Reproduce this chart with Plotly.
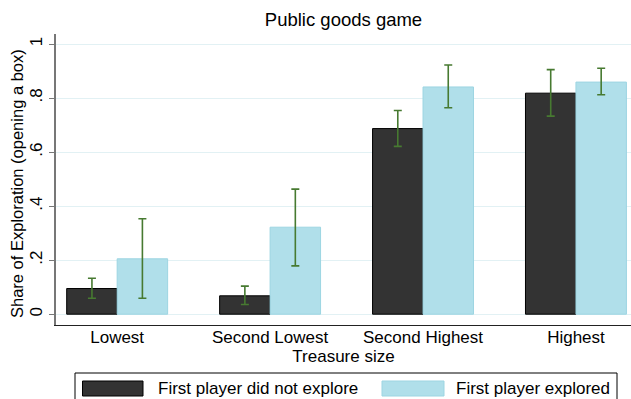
import plotly.graph_objects as go

# Treasure-size categories on the x axis
categories = ["Lowest", "Second Lowest", "Second Highest", "Highest"]

# Share of exploration when the first player did not explore
not_explored = [0.095, 0.068, 0.687, 0.818]
not_explored_hi = [0.133, 0.104, 0.754, 0.905]
not_explored_lo = [0.059, 0.036, 0.621, 0.733]

# Share of exploration when the first player explored
explored = [0.205, 0.322, 0.841, 0.859]
explored_hi = [0.353, 0.463, 0.922, 0.910]
explored_lo = [0.059, 0.179, 0.764, 0.812]

y_tickvals = [0, 0.2, 0.4, 0.6, 0.8, 1]
y_ticktext = ["0", ".2", ".4", ".6", ".8", "1"]

series_names = ["First player did not explore", "First player explored"]
y_title = "Share of Exploration (opening a box)"

FONT = "Liberation Sans, Arial, sans-serif"
DARK = "#333333"
LIGHT = "#b0dfea"
LIGHT_EDGE = "#9dd5e2"
CI_COLOR = "#477a31"

W, H = 631, 399
M_L, M_R, M_T, M_B = 56, 0, 34, 74


def err(vals, hi, lo):
    return dict(
        type="data",
        symmetric=False,
        array=[h - v for h, v in zip(hi, vals)],
        arrayminus=[v - l for v, l in zip(vals, lo)],
        color=CI_COLOR,
        thickness=1.6,
        width=4,
    )


fig = go.Figure()
fig.add_trace(go.Bar(
    x=categories, y=not_explored, name=series_names[0],
    marker=dict(color=DARK, line=dict(color="#000000", width=1)),
    error_y=err(not_explored, not_explored_hi, not_explored_lo),
    showlegend=False,
))
fig.add_trace(go.Bar(
    x=categories, y=explored, name=series_names[1],
    marker=dict(color=LIGHT, line=dict(color=LIGHT_EDGE, width=1)),
    error_y=err(explored, explored_hi, explored_lo),
    showlegend=False,
))

# Legend drawn as a framed strip below the axis
plot_w = W - M_L - M_R
plot_h = H - M_T - M_B


def px_x(X):
    return (X - M_L) / plot_w


def px_y(Y):
    return (H - M_B - Y) / plot_h


shapes = [
    dict(type="rect", xref="paper", yref="paper",
         x0=px_x(75), x1=px_x(617), y0=px_y(402), y1=px_y(373),
         line=dict(color="#000000", width=1), fillcolor="rgba(0,0,0,0)"),
    dict(type="rect", xref="paper", yref="paper",
         x0=px_x(82.5), x1=px_x(143), y0=px_y(396), y1=px_y(381),
         line=dict(color="#000000", width=1), fillcolor=DARK),
    dict(type="rect", xref="paper", yref="paper",
         x0=px_x(382), x1=px_x(444), y0=px_y(396), y1=px_y(381),
         line=dict(color=LIGHT_EDGE, width=1), fillcolor=LIGHT),
]
annotations = [
    dict(text=series_names[0], xref="paper", yref="paper",
         x=px_x(156), y=px_y(388.5), xanchor="left", yanchor="middle",
         showarrow=False, font=dict(family=FONT, size=17, color="#000000")),
    dict(text=series_names[1], xref="paper", yref="paper",
         x=px_x(454), y=px_y(388.5), xanchor="left", yanchor="middle",
         showarrow=False, font=dict(family=FONT, size=17, color="#000000")),
    # y-axis title, rotated
    dict(text=y_title, xref="paper", yref="paper", textangle=-90,
         x=px_x(17), y=px_y(184), xanchor="center", yanchor="middle",
         showarrow=False, font=dict(family=FONT, size=16.5, color="#000000")),
]

fig.update_layout(
    width=W, height=H,
    margin=dict(l=M_L, r=M_R, t=M_T, b=M_B, autoexpand=False),
    paper_bgcolor="#ffffff", plot_bgcolor="#ffffff",
    font=dict(family=FONT, size=17, color="#000000"),
    barmode="group", bargap=0.34, bargroupgap=0,
    title=dict(text="Public goods game", x=(M_L + plot_w / 2) / W, xanchor="center",
               y=1 - 19.5 / H, yanchor="middle",
               font=dict(family=FONT, size=18.5, color="#000000")),
    shapes=shapes, annotations=annotations,
)

fig.update_xaxes(
    range=[-0.40, 3.36],
    showline=True, linecolor="#222222", linewidth=1,
    ticks="", showgrid=False, zeroline=False,
    tickfont=dict(family=FONT, size=17),
    ticklabelstandoff=-3,
    title=dict(text="Treasure size", standoff=0, font=dict(family=FONT, size=17)),
    automargin=False,
)
fig.update_yaxes(
    range=[-0.04, 1.037],
    tickvals=y_tickvals, ticktext=y_ticktext, tickangle=-90,
    ticks="outside", ticklen=5, tickcolor="#777777", tickwidth=1,
    showline=True, linecolor="#777777", linewidth=1.5,
    showgrid=True, gridcolor="#e2f1f4", gridwidth=1, zeroline=False,
    tickfont=dict(family=FONT, size=17),
    automargin=False,
)

fig.write_html("out.html")
